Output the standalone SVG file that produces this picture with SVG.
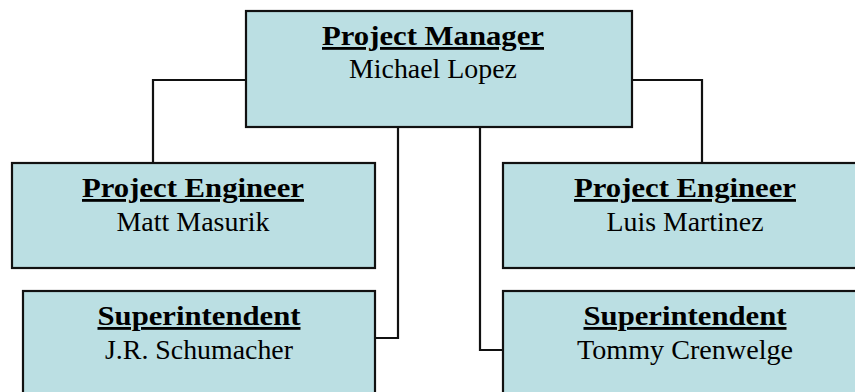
<svg xmlns="http://www.w3.org/2000/svg" width="855" height="392" viewBox="0 0 855 392">
<style>
.box{fill:#BBDFE3;stroke:#111;stroke-width:2.2}
.conn{fill:none;stroke:#111;stroke-width:2.2}
.t{font-family:"Liberation Serif","Times New Roman",serif;font-weight:bold;font-size:28px;text-decoration:underline;fill:#000;text-anchor:middle}
.n{font-family:"Liberation Serif","Times New Roman",serif;font-size:27px;fill:#000;text-anchor:middle}
</style>
<rect width="855" height="392" fill="#fff"/>
<g id="connectors">
<polyline class="conn" points="246,80 153,80 153,163"/>
<polyline class="conn" points="632,80 702,80 702,163"/>
<polyline class="conn" points="398,127 398,338 375,338"/>
<polyline class="conn" points="480,127 480,350 503,350"/>
</g>
<g id="pm">
<rect class="box" x="246" y="11" width="386" height="116"/>
<text class="t" x="433" y="45" textLength="222" lengthAdjust="spacingAndGlyphs">Project Manager</text>
<text class="n" x="433" y="78" textLength="168" lengthAdjust="spacingAndGlyphs">Michael Lopez</text>
</g>
<g id="pe-left">
<rect class="box" x="12" y="163" width="363" height="105"/>
<text class="t" x="193" y="197" textLength="222" lengthAdjust="spacingAndGlyphs">Project Engineer</text>
<text class="n" x="193" y="231" textLength="153" lengthAdjust="spacingAndGlyphs">Matt Masurik</text>
</g>
<g id="pe-right">
<rect class="box" x="503" y="163" width="363" height="105"/>
<text class="t" x="685" y="197" textLength="222" lengthAdjust="spacingAndGlyphs">Project Engineer</text>
<text class="n" x="685" y="231" textLength="157" lengthAdjust="spacingAndGlyphs">Luis Martinez</text>
</g>
<g id="super-left">
<rect class="box" x="23" y="291" width="352" height="120"/>
<text class="t" x="199" y="325" textLength="203" lengthAdjust="spacingAndGlyphs">Superintendent</text>
<text class="n" x="199" y="359" textLength="188" lengthAdjust="spacingAndGlyphs">J.R. Schumacher</text>
</g>
<g id="super-right">
<rect class="box" x="503" y="291" width="363" height="120"/>
<text class="t" x="685" y="325" textLength="203" lengthAdjust="spacingAndGlyphs">Superintendent</text>
<text class="n" x="685" y="359" textLength="216" lengthAdjust="spacingAndGlyphs">Tommy Crenwelge</text>
</g>
</svg>
